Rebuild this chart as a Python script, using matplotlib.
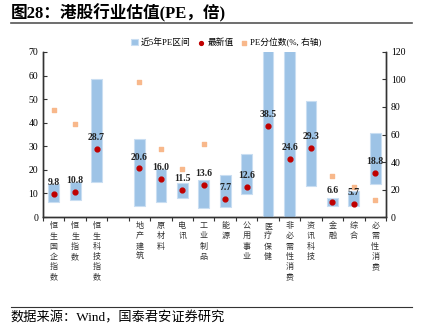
import numpy as np
import matplotlib
matplotlib.use('Agg')
import matplotlib.pyplot as plt

plt.rcParams['font.family'] = ['Liberation Serif', 'Noto Sans CJK SC']

# 行业 (空字符串为分隔位)
hangye = ['恒生国企指数', '恒生指数', '恒生科技指数', '', '地产建筑', '原材料', '电讯',
          '工业制品', '能源', '公用事业', '医疗保健', '非必需性消费', '资讯科技',
          '金融', '综合', '必需性消费']
pe_low = [6.5, 7.4, 15.0, np.nan, 4.5, 6.3, 8.2, 4.0, 4.2, 9.6, 0.0, 0.0, 13.3, 4.8, 4.8, 14.1]
pe_high = [13.9, 15.0, 58.4, np.nan, 33.0, 20.5, 14.4, 15.6, 18.0, 26.6, 95.0, 110.0, 49.2, 8.2, 11.0, 35.6]
pe_latest = [9.8, 10.8, 28.7, np.nan, 20.6, 16.0, 11.5, 13.6, 7.7, 12.6, 38.5, 24.6, 29.3, 6.6, 5.7, 18.8]
pe_pct = [77.8, 67.4, 33.5, np.nan, 98.5, 49.7, 35.2, 53.3, 22.5, 24.5, 27.2, 33.9, 32.0, 29.6, 21.8, 12.1]

x = np.arange(len(hangye))
lo = np.nan_to_num(pe_low)
hi = np.nan_to_num(pe_high)

fig = plt.figure(figsize=(4.26, 3.35), dpi=100)
ax = fig.add_axes([0.101, 0.352, 0.805, 0.493])
ax2 = ax.twinx()

bars = ax.bar(x, hi - lo, bottom=lo, width=0.5, color='#9DC3E6', edgecolor='#C9DEF2',
              linewidth=0.8, label='近5年PE区间', zorder=2)
dots = ax.scatter(x, pe_latest, s=12, color='#C00000', label='最新值', zorder=4)
for xi, v in zip(x, pe_latest):
    if not np.isnan(v):
        ax.annotate(f'{v:.1f}', (xi, v), xytext=(0, 5), textcoords='offset points',
                    ha='center', va='bottom', fontsize=7, fontweight='bold', color='#222222', zorder=5)
sq = ax2.scatter(x, pe_pct, s=11, marker='s', color='#F8B88B', label='PE分位数(%, 右轴)', zorder=3)

ax.set_ylim(0, 70)
ax.set_yticks(range(0, 71, 10))
ax2.set_ylim(0, 120)
ax2.set_yticks(range(0, 121, 20))
ax.set_xlim(-0.5, len(hangye) - 0.5)
ax.set_zorder(ax2.get_zorder() + 1)
ax.patch.set_visible(False)

ax.set_xticks([])
ax.set_xticks(np.arange(-0.5, len(hangye), 1), minor=True)
ax.tick_params(axis='x', which='minor', direction='out', length=3, width=0.8, color='#333333')
ax.tick_params(axis='y', direction='in', length=3, labelsize=7, width=0.8, color='#333333')
ax2.tick_params(axis='y', direction='in', length=3, labelsize=7, width=0.8, color='#333333')
for a in (ax, ax2):
    a.spines['top'].set_visible(False)
    for s in ('left', 'right', 'bottom'):
        a.spines[s].set_color('#333333')
        a.spines[s].set_linewidth(1.0)

for xi, name in zip(x, hangye):
    ax.text(xi, -1.7, '\n'.join(name), ha='center', va='top', fontsize=5.8,
            linespacing=1.18, color='#333333', family=['Noto Sans CJK SC'])

ax.legend([bars, dots, sq], ['近5年PE区间', '最新值', 'PE分位数(%, 右轴)'],
          loc='lower center', bbox_to_anchor=(0.535, 0.98), ncol=3,
          frameon=False, fontsize=6.3, handlelength=0.8, handletextpad=0.3,
          columnspacing=0.8, markerscale=0.8)

fig.text(0.025, 0.962, '图28：港股行业估值(PE，倍)', fontsize=12, fontweight='bold', va='center')
fig.add_artist(plt.Line2D([0.025, 0.968], [0.932, 0.932], color='#555555', lw=1.2))
fig.add_artist(plt.Line2D([0.025, 0.968], [0.085, 0.085], color='#333333', lw=0.8))
fig.text(0.025, 0.05, '数据来源：Wind，国泰君安证券研究', fontsize=9.5, va='center')

fig.savefig('out.png', dpi=100)
